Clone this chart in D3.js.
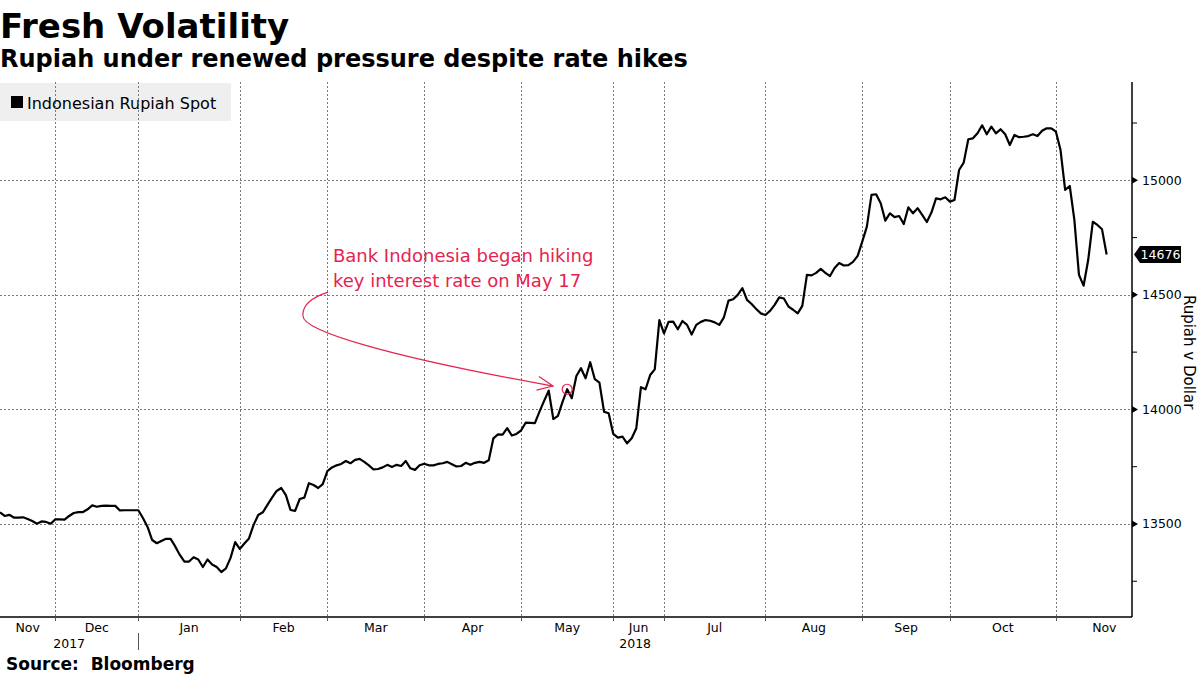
<!DOCTYPE html>
<html>
<head>
<meta charset="utf-8">
<script src="https://cdn.jsdelivr.net/npm/d3@7"></script>
<style>
  html, body { margin: 0; padding: 0; background: #fff; }
  svg { display: block; }
</style>
</head>
<body>
<svg id="chart" width="1200" height="675"></svg>
<script>
// ---------- DATA ----------
const title = "Fresh Volatility";
const subtitle = "Rupiah under renewed pressure despite rate hikes";
const seriesName = "Indonesian Rupiah Spot";
const source = "Source:  Bloomberg";
const yAxisTitle = "Rupiah v Dollar";
const lastLabel = "14676";

// Indonesian Rupiah spot (USD/IDR), one value per trading day, mid-Nov 2017 to mid-Nov 2018
const rates = [
  13551,13535,13540,13528,13528,13529,13522,13513,13501,13511,13509,13501,
  13520,13520,13519,13535,13548,13552,13552,13564,13581,13575,13579,13580,13579,13579,13559,13560,13560,13560,
  13560,13526,13487,13430,13416,13426,13435,13435,13402,13365,13336,13336,13355,13345,13312,13345,13323,13312,13290,13306,13352,13421,
  13391,13415,13437,13496,13539,13551,13583,13615,13644,13657,13626,13561,13557,13609,13615,13678,13670,13657,13674,
  13731,13747,13756,13762,13775,13765,13780,13784,13771,13756,13738,13740,13747,13758,13749,13758,13753,13775,13743,13736,13756,
  13763,13756,13756,13762,13765,13771,13761,13751,13753,13767,13758,13767,13771,13767,13778,13874,13891,13890,13918,13886,13893,
  13908,13942,13941,13940,13990,14037,14082,13958,13972,14033,14088,14049,14146,14180,14136,14206,14132,14117,13990,13983,
  13893,13877,13881,13852,13874,13918,14097,14088,14150,14175,14390,
  14332,14382,14383,14350,14386,14369,14327,14369,14382,14390,14387,14380,14369,14402,14475,14481,14500,14529,14478,14460,14438,14419,
  14412,14430,14456,14489,14484,14449,14435,14419,14452,14587,14585,14596,14613,14596,14582,14617,14639,14628,14630,14644,14670,
  14732,14798,14936,14939,14900,14824,14856,14839,14844,14809,14882,14856,14878,14849,14818,14859,14921,14917,14926,
  14907,14914,15045,15077,15179,15183,15205,15240,15201,15234,15205,15223,15201,15154,15198,15188,15190,15193,15201,15193,15216,15227,15227,
  15212,15132,14958,14975,14827,14587,14540,14652,14819,14805,14786,14676
];

// month labels and the trading-day index where each month begins / ends
const monthLabels = ["Nov","Dec","Jan","Feb","Mar","Apr","May","Jun","Jul","Aug","Sep","Oct","Nov"];
const monthStart  = [0, 12, 30, 52, 71, 92, 113, 133, 144, 166, 187, 206, 229];
const monthEnd    = [12, 30, 52, 71, 92, 113, 133, 144, 166, 187, 206, 229, 250];
const yearLabels = ["2017", "2018"];
const yearStart  = [0, 30];
const yearEnd    = [30, 245.5];

const yMajorTicks = [13500, 14000, 14500, 15000];
const yMinorTicks = [13250, 13750, 14250, 14750, 15250];

// annotation
const noteLines = ["Bank Indonesia began hiking", "key interest rate on May 17"];
const hikeDayIndex = 123;  // May 17 2018
const noteAnchor = [72.2, 14643];               // [trading-day index, rate]
const arrowPts = [[71.13,14512],[67.23,14486],[65.5,14451],[65.71,14408],[65.71,14347],[82.41,14237],[119.93,14102]];

// ---------- CHART ----------
const W = 1200, H = 675;
const plot = { left: 0, right: 1132, top: 82, bottom: 617 };
const svg = d3.select("#chart");
const FONT = "'DejaVu Sans', Verdana, sans-serif";
const RED = "#e6234f";

const x = d3.scaleLinear().domain([0, 245.5]).range([plot.left, plot.right]);
const y = d3.scaleLinear().domain([13094, 15429]).range([plot.bottom, plot.top]);

svg.append("rect").attr("width", W).attr("height", H).attr("fill", "#fff");

// Titles
svg.append("text").attr("x", 0).attr("y", 38)
  .style("font-family", FONT).style("font-weight", "bold").style("font-size", "34px")
  .attr("fill", "#000").text(title);
svg.append("text").attr("x", 0).attr("y", 67)
  .style("font-family", FONT).style("font-weight", "bold").style("font-size", "24px")
  .attr("fill", "#000").text(subtitle);

// Legend box (under gridlines)
const legend = svg.append("g");
legend.append("rect").attr("x", 0).attr("y", 83).attr("width", 231).attr("height", 38).attr("fill", "#efefef");
legend.append("rect").attr("x", 11).attr("y", 96).attr("width", 12).attr("height", 12).attr("fill", "#000");
legend.append("text").attr("x", 27).attr("y", 108.5)
  .style("font-family", FONT).style("font-size", "16px").attr("fill", "#000").text(seriesName);

// Gridlines
const grid = svg.append("g").attr("stroke", "#7a7a7a").attr("stroke-width", 1).attr("stroke-dasharray", "2,2");
grid.selectAll("line.h").data(yMajorTicks).join("line")
  .attr("x1", plot.left).attr("x2", plot.right)
  .attr("y1", d => Math.round(y(d)) + 0.5).attr("y2", d => Math.round(y(d)) + 0.5);
grid.selectAll("line.v").data(monthStart.slice(1)).join("line")
  .attr("x1", d => Math.round(x(d)) + 0.5).attr("x2", d => Math.round(x(d)) + 0.5)
  .attr("y1", plot.top).attr("y2", plot.bottom);

// Right axis
const yAxis = d3.axisRight(y).tickValues(yMajorTicks).tickSize(0).tickPadding(10).tickFormat(d3.format("d"));
const gy = svg.append("g").attr("transform", `translate(${plot.right},0)`).call(yAxis);
gy.select(".domain").remove();
gy.selectAll("text").style("font-family", FONT).style("font-size", "12.5px").attr("fill", "#000");
svg.append("line").attr("x1", plot.right).attr("x2", plot.right).attr("y1", plot.top).attr("y2", plot.bottom)
  .attr("stroke", "#000").attr("stroke-width", 1.5);
// major tick triangles
svg.selectAll("path.majtick").data(yMajorTicks).join("path")
  .attr("d", d => `M${plot.right},${y(d) - 3.5}L${plot.right + 6},${y(d)}L${plot.right},${y(d) + 3.5}Z`)
  .attr("fill", "#000");
// minor ticks
svg.selectAll("line.mintick").data(yMinorTicks).join("line")
  .attr("x1", plot.right).attr("x2", plot.right + 5)
  .attr("y1", d => y(d)).attr("y2", d => y(d)).attr("stroke", "#000").attr("stroke-width", 1);

// axis title
svg.append("text")
  .attr("transform", `translate(1184, ${(y(14500) + y(14000)) / 2}) rotate(90)`)
  .attr("text-anchor", "middle")
  .style("font-family", FONT).style("font-size", "15px").attr("fill", "#000").text(yAxisTitle);

// Bottom axis
svg.append("line").attr("x1", plot.left).attr("x2", plot.right).attr("y1", plot.bottom).attr("y2", plot.bottom)
  .attr("stroke", "#000").attr("stroke-width", 1.5);
svg.selectAll("line.mtick").data(monthStart.slice(1)).join("line")
  .attr("x1", d => Math.round(x(d)) + 0.5).attr("x2", d => Math.round(x(d)) + 0.5)
  .attr("y1", plot.bottom).attr("y2", plot.bottom + 4).attr("stroke", "#555").attr("stroke-width", 1);
svg.selectAll("text.month").data(monthLabels).join("text")
  .attr("x", (d, i) => (x(monthStart[i]) + x(monthEnd[i])) / 2)
  .attr("y", 632).attr("text-anchor", "middle")
  .style("font-family", FONT).style("font-size", "12.5px").attr("fill", "#000").text(d => d);
svg.selectAll("text.year").data(yearLabels).join("text")
  .attr("x", (d, i) => (x(yearStart[i]) + x(yearEnd[i])) / 2)
  .attr("y", 648).attr("text-anchor", "middle")
  .style("font-family", FONT).style("font-size", "12.5px").attr("fill", "#000").text(d => d);
svg.append("line").attr("x1", Math.round(x(yearStart[1])) + 0.5).attr("x2", Math.round(x(yearStart[1])) + 0.5)
  .attr("y1", 633).attr("y2", 650).attr("stroke", "#555").attr("stroke-width", 1);

// Series line
const line = d3.line().x((d, i) => x(i)).y(d => y(d));
svg.append("path").datum(rates).attr("d", line)
  .attr("fill", "none").attr("stroke", "#000").attr("stroke-width", 2.2).attr("stroke-linejoin", "round");

// Last value tag
const lastY = y(rates[rates.length - 1]);
svg.append("path")
  .attr("d", `M${plot.right + 2},${lastY}L${plot.right + 8},${lastY - 8.5}L${plot.right + 49},${lastY - 8.5}L${plot.right + 49},${lastY + 8.5}L${plot.right + 8},${lastY + 8.5}Z`)
  .attr("fill", "#000");
svg.append("text").attr("x", plot.right + 28.5).attr("y", lastY + 4.5).attr("text-anchor", "middle")
  .style("font-family", FONT).style("font-size", "12.5px").attr("fill", "#fff").text(lastLabel);

// Annotation
const note = svg.append("g");
note.selectAll("text").data(noteLines).join("text")
  .attr("x", x(noteAnchor[0])).attr("y", (d, i) => y(noteAnchor[1]) + i * 25)
  .style("font-family", FONT).style("font-size", "18px").attr("fill", RED).text(d => d);
const ap = arrowPts.map(p => [x(p[0]), y(p[1])]);
const p = d3.path();
p.moveTo(ap[0][0], ap[0][1]);
p.bezierCurveTo(ap[1][0], ap[1][1], ap[2][0], ap[2][1], ap[3][0], ap[3][1]);
p.bezierCurveTo(ap[4][0], ap[4][1], ap[5][0], ap[5][1], ap[6][0], ap[6][1]);
note.append("path").attr("d", p.toString()).attr("fill", "none").attr("stroke", RED).attr("stroke-width", 1.2);
// arrow head
const tip = ap[6], from = ap[5];
const ang = Math.atan2(tip[1] - from[1], tip[0] - from[0]);
const hl = 17, spread = 0.42;
const b1 = [tip[0] - hl * Math.cos(ang - spread), tip[1] - hl * Math.sin(ang - spread)];
const b2 = [tip[0] - hl * Math.cos(ang + spread), tip[1] - hl * Math.sin(ang + spread)];
note.append("path").attr("d", `M${b1[0]},${b1[1]}L${tip[0]},${tip[1]}L${b2[0]},${b2[1]}`)
  .attr("fill", "none").attr("stroke", RED).attr("stroke-width", 1.2);
note.append("circle").attr("cx", x(hikeDayIndex)).attr("cy", y(rates[hikeDayIndex])).attr("r", 5)
  .attr("fill", "none").attr("stroke", RED).attr("stroke-width", 1.2);

// Source
svg.append("text").attr("x", 6).attr("y", 670)
  .style("font-family", FONT).style("font-weight", "bold").style("font-size", "17px")
  .style("white-space", "pre").attr("xml:space", "preserve")
  .attr("fill", "#000").text(source);
</script>
</body>
</html>
